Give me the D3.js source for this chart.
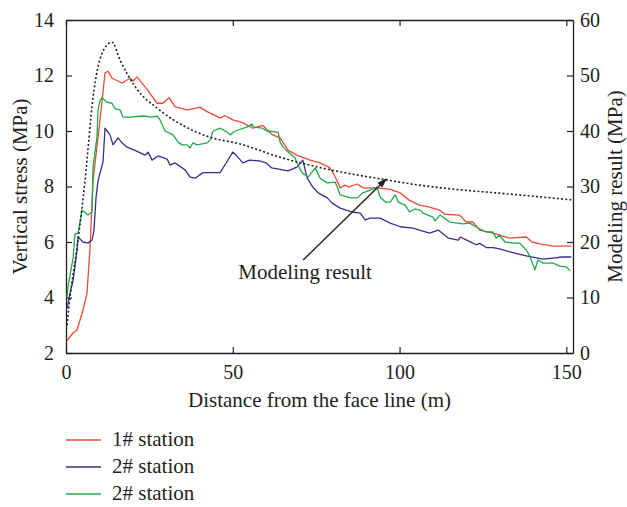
<!DOCTYPE html>
<html>
<head>
<meta charset="utf-8">
<script src="https://cdn.jsdelivr.net/npm/d3@7"></script>
<style>
  body { margin: 0; background: #fff; }
  svg text { font-family: "Liberation Serif", "Times New Roman", serif; fill: #231f20; }
</style>
</head>
<body>
<svg id="chart" width="627" height="507"></svg>
<script>
// distance (m), vertical stress (MPa)
const station1 = [
  [0.3, 2.45], [2.1, 2.72], [3.3, 2.83], [5.1, 3.55], [6.3, 4.16], [7.2, 5.8], [8.1, 8.2],
  [10.2, 10.4], [11.7, 12.1], [12.6, 12.15], [13.8, 11.9], [16.8, 11.73], [19.2, 11.9],
  [20.1, 11.8], [21.3, 11.95], [24.3, 11.5], [27.3, 11.0], [29.1, 11.0], [30.9, 11.2],
  [32.7, 10.87], [36.3, 10.76], [40.2, 10.85], [42.3, 10.7], [46.2, 10.47], [47.7, 10.55],
  [50, 10.4], [53, 10.3], [56, 10.1], [59, 10.2], [60.6, 10.0], [62, 9.86], [64.2, 9.75],
  [66.6, 9.3], [69.2, 9.13], [73.2, 8.95], [76.2, 8.85], [79.2, 8.67], [80.7, 8.35],
  [82.2, 7.95], [83.7, 8.05], [84.6, 7.98], [87.3, 8.09], [89, 7.95], [93.2, 7.95],
  [97.2, 7.9], [100.2, 7.77], [103, 7.5], [106, 7.33], [109, 7.26], [112, 7.15],
  [113.6, 7.0], [118, 6.97], [120, 6.72], [122, 6.72], [124, 6.43], [128, 6.32],
  [133, 6.14], [138, 6.18], [139.7, 6.0], [142, 5.93], [146, 5.85], [150, 5.85], [151.5, 5.85]
];
const station2 = [
  [0.3, 3.6], [1.2, 4.16], [2.1, 4.6], [3.3, 5.7], [3.6, 6.18], [5.1, 6.0], [6.6, 5.96],
  [7.8, 6.07], [8.4, 6.43], [9.0, 7.6], [9.6, 8.2], [11.1, 8.9], [11.7, 10.1], [12.3, 10.0],
  [13.2, 9.86], [14.1, 9.5], [15.6, 9.75], [16.8, 9.57], [18.3, 9.42], [20.7, 9.3],
  [23.7, 9.13], [24.6, 9.24], [25.8, 8.95], [27.6, 9.1], [30.3, 8.99], [31.2, 8.77],
  [32.7, 8.85], [35.7, 8.6], [37.2, 8.34], [38.7, 8.3], [41.1, 8.5], [46.2, 8.5],
  [48.3, 8.9], [50, 9.24], [51, 9.13], [53, 8.85], [55, 8.95], [58, 8.92], [60, 8.85],
  [61.7, 8.67], [66.6, 8.56], [69.2, 8.7], [71, 8.95], [72.3, 8.3], [74, 7.98], [75.6, 7.77],
  [78.3, 7.59], [79.8, 7.4], [82.2, 7.22], [85.8, 7.08], [88.2, 7.04], [89.7, 6.8],
  [91.2, 6.86], [94.2, 6.86], [97.2, 6.68], [100.2, 6.55], [104, 6.5], [106, 6.43],
  [109, 6.32], [111.6, 6.43], [114.6, 6.14], [117.6, 6.07], [118.2, 6.18], [120.6, 6.04],
  [123, 5.9], [124, 5.95], [126, 5.8], [128, 5.8], [130, 5.75], [133, 5.64], [138, 5.5],
  [143, 5.38], [146, 5.42], [148.7, 5.46], [151.5, 5.46]
];
const station3 = [
  [0.3, 4.0], [0.6, 4.4], [1.8, 5.2], [2.1, 5.4], [2.7, 6.3], [3.6, 6.3], [4.8, 7.15],
  [6.6, 6.97], [7.8, 7.08], [8.1, 8.7], [9.3, 9.8], [9.6, 10.76], [10.2, 11.1], [10.8, 11.2],
  [12.3, 11.04], [13.8, 11.0], [14.7, 10.8], [16.2, 10.76], [17.1, 10.5], [19.2, 10.5],
  [23.1, 10.54], [25.8, 10.5], [27.3, 10.54], [28.2, 10.4], [29.7, 10.0], [32.1, 9.86],
  [33.6, 9.6], [34.8, 9.5], [36.3, 9.5], [37.2, 9.39], [38, 9.57], [39.3, 9.5], [42.3, 9.57],
  [43.2, 9.68], [44.1, 10.0], [46.2, 10.1], [48.3, 9.96], [49.2, 9.86], [50.7, 10.0],
  [54.2, 10.14], [55.8, 10.25], [56.1, 10.15], [58.8, 10.1], [60.2, 10.0], [63.6, 9.96],
  [64.2, 9.6], [65.1, 9.42], [66.6, 9.24], [68.7, 9.03], [69.6, 8.77], [70.8, 8.49],
  [72.6, 8.34], [74.7, 8.67], [76.2, 8.3], [78.3, 8.13], [80.7, 8.16], [82.2, 7.7],
  [85.2, 7.59], [87.3, 7.59], [89, 7.77], [91.2, 7.87], [93.2, 7.98], [94.2, 7.62],
  [95.7, 7.44], [97.2, 7.44], [98.7, 7.7], [99.6, 7.44], [101.7, 7.33], [103, 7.08],
  [104.6, 7.19], [106, 7.15], [107, 7.04], [110, 6.9], [110.6, 6.76], [112.1, 6.97],
  [115.1, 6.72], [119, 6.65], [121, 6.68], [123, 6.54], [126, 6.36], [128, 6.36],
  [129, 6.14], [130, 6.25], [131.6, 6.0], [134.6, 5.96], [136, 5.96], [138, 5.71],
  [139, 5.5], [140.6, 5.0], [141.5, 5.35], [143, 5.24], [146, 5.24], [148, 5.13],
  [150, 5.1], [151.2, 4.96]
];
// distance (m), modeling result (MPa, right axis)
const model = [
  [0.3, 5], [1.2, 10], [3.3, 19], [5.7, 31], [8.1, 46], [10.8, 54], [13.8, 56], [16.2, 52.8],
  [20.7, 48], [28, 43.8], [36, 40.7], [43, 38.9], [52, 37.7], [64, 35.3], [77, 33.3],
  [88, 32], [96, 31.2], [103, 30.5], [115, 29.6], [130, 28.8], [141, 28.2], [151.5, 27.6]
];

const xTicks = [0, 50, 100, 150];
const yLeftTicks = [2, 4, 6, 8, 10, 12, 14];
const yRightTicks = [0, 10, 20, 30, 40, 50, 60];
const seriesNames = ["1# station", "2# station", "2# station"];
const seriesColors = ["#ef4a35", "#35308f", "#1fab4a"];
const arrowFrom = [71.1, 5.35];
const arrowTo = [96, 8.27];

const svg = d3.select("#chart");
const margin = { top: 20, right: 54, bottom: 154, left: 66 };
const W = 627 - margin.left - margin.right;
const H = 507 - margin.top - margin.bottom;

const x = d3.scaleLinear().domain([0, 152]).range([0, W]);
const yL = d3.scaleLinear().domain([2, 14]).range([H, 0]);
const yR = d3.scaleLinear().domain([0, 60]).range([H, 0]);

const g = svg.append("g").attr("transform", `translate(${margin.left},${margin.top})`);

svg.append("defs").append("marker")
   .attr("id", "arrowhead")
   .attr("viewBox", "0 0 10 10")
   .attr("refX", 9).attr("refY", 5)
   .attr("markerWidth", 7).attr("markerHeight", 7)
   .attr("orient", "auto")
   .append("path")
   .attr("d", "M0,1.5 L10,5 L0,8.5 Z")
   .attr("fill", "#231f20");

let styleAxis = (sel) => {
  sel.select(".domain").attr("stroke", "#231f20").attr("stroke-width", 1.3);
  sel.selectAll(".tick line").attr("stroke", "#231f20").attr("stroke-width", 1.2);
  sel.selectAll(".tick text").style("font-size", "20px");
};

// axes (ticks inward)
g.append("g").attr("transform", `translate(0,${H})`)
 .call(d3.axisBottom(x).tickValues(xTicks).tickSizeInner(-6).tickSizeOuter(0).tickPadding(12))
 .call(styleAxis);
g.append("g")
 .call(d3.axisTop(x).tickValues(xTicks).tickSizeInner(-6).tickSizeOuter(0).tickFormat(""))
 .call(styleAxis);
g.append("g")
 .call(d3.axisLeft(yL).tickValues(yLeftTicks).tickSizeInner(-6).tickSizeOuter(0).tickPadding(12))
 .call(styleAxis);
g.append("g").attr("transform", `translate(${W},0)`)
 .call(d3.axisRight(yR).tickValues(yRightTicks).tickSizeInner(-6).tickSizeOuter(0).tickPadding(7))
 .call(styleAxis);

// measured series
const lineL = d3.line().x(d => x(d[0])).y(d => yL(d[1]));
[station1, station2, station3].forEach((data, i) => {
  g.append("path")
   .datum(data)
   .attr("fill", "none")
   .attr("stroke", seriesColors[i])
   .attr("stroke-width", 1.3)
   .attr("stroke-linejoin", "round")
   .attr("d", lineL);
});

// modeling result (dotted, right axis)
g.append("path")
 .datum(model)
 .attr("fill", "none")
 .attr("stroke", "#231f20")
 .attr("stroke-width", 1.6)
 .attr("stroke-dasharray", "2,2.2")
 .attr("d", d3.line().curve(d3.curveMonotoneX).x(d => x(d[0])).y(d => yR(d[1])));

// annotation arrow
g.append("line")
 .attr("x1", x(arrowFrom[0])).attr("y1", yL(arrowFrom[1]))
 .attr("x2", x(arrowTo[0])).attr("y2", yL(arrowTo[1]))
 .attr("stroke", "#231f20").attr("stroke-width", 1.4)
 .attr("marker-end", "url(#arrowhead)");
g.append("text")
 .attr("x", x(arrowFrom[0]) + 2).attr("y", yL(arrowFrom[1]) + 19)
 .attr("text-anchor", "middle")
 .style("font-size", "21px")
 .text("Modeling result");

// axis titles
g.append("text")
 .attr("x", W / 2).attr("y", H + 54)
 .attr("text-anchor", "middle").style("font-size", "21px")
 .text("Distance from the face line (m)");
g.append("text")
 .attr("transform", `translate(${-39},${H / 2}) rotate(-90)`)
 .attr("text-anchor", "middle").style("font-size", "21px")
 .text("Vertical stress (MPa)");
g.append("text")
 .attr("transform", `translate(${W + 49},${H / 2}) rotate(-90)`)
 .attr("text-anchor", "middle").style("font-size", "21px")
 .text("Modeling result (MPa)");

// legend
const legendRows = svg.selectAll(".legend")
  .data(seriesNames)
  .enter()
  .append("g")
  .attr("class", "legend")
  .attr("transform", (el, i) => `translate(66,${440 + i * 27})`);
legendRows.append("line")
  .attr("x1", 0).attr("x2", 35).attr("y1", 0).attr("y2", 0)
  .attr("stroke", (el, i) => seriesColors[i]).attr("stroke-width", 1.3);
legendRows.append("text")
  .attr("x", 46).attr("y", 6)
  .style("font-size", "21px")
  .text(el => el);
</script>
</body>
</html>
